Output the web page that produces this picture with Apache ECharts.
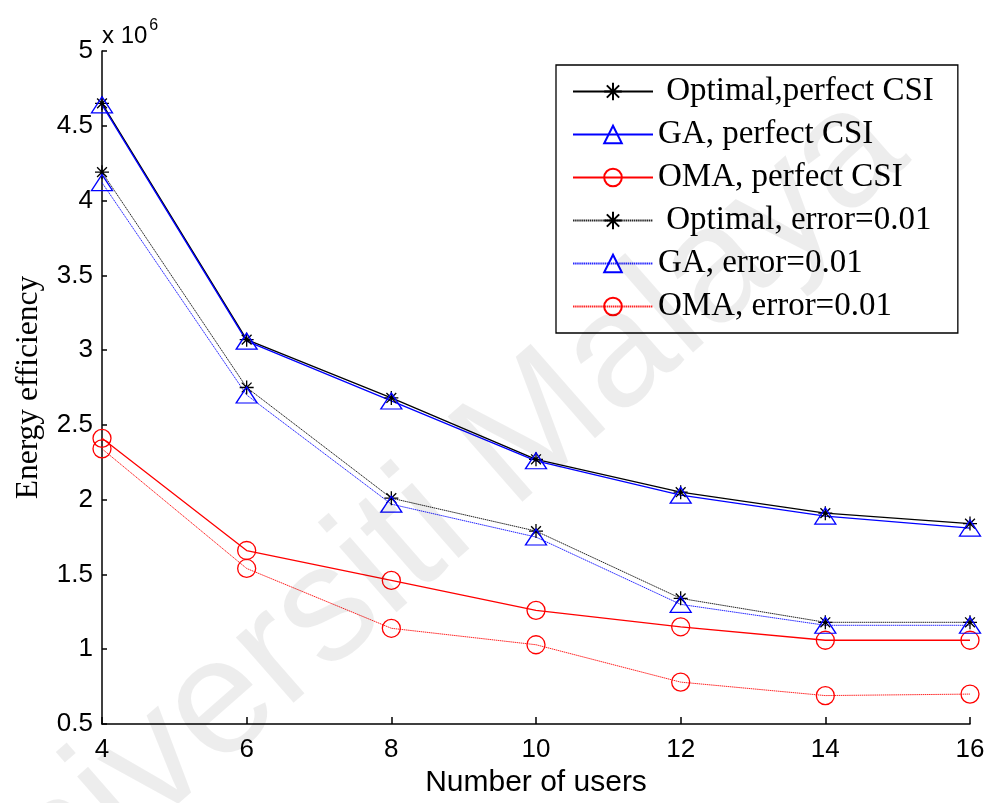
<!DOCTYPE html>
<html>
<head>
<meta charset="utf-8">
<script src="https://cdn.jsdelivr.net/npm/echarts@6/dist/echarts.min.js"></script>
<style>
  html, body { margin: 0; padding: 0; background: #fff; }
  #chart { width: 991px; height: 803px; }
</style>
</head>
<body>
<div id="chart"></div>
<script>
// Number of users on the x axis
const users = [4, 6, 8, 10, 12, 14, 16];

// Energy efficiency (in units of 10^6)
const optimalPerfect = [4.65, 3.07, 2.68, 2.27, 2.05, 1.91, 1.84];
const gaPerfect      = [4.64, 3.06, 2.66, 2.26, 2.03, 1.89, 1.81];
const omaPerfect     = [2.41, 1.66, 1.46, 1.26, 1.15, 1.06, 1.06];
const optimalError   = [4.19, 2.75, 2.01, 1.79, 1.34, 1.18, 1.18];
const gaError        = [4.12, 2.70, 1.97, 1.75, 1.30, 1.16, 1.16];
const omaError       = [2.34, 1.54, 1.14, 1.03, 0.78, 0.69, 0.70];

const seriesNames = [
  ' Optimal,perfect CSI',
  'GA, perfect CSI',
  'OMA, perfect CSI',
  ' Optimal, error=0.01',
  'GA, error=0.01',
  'OMA, error=0.01'
];

const yTicks = { min: 0.5, max: 5, step: 0.5 };
const xTicks = { min: 4, max: 16, step: 2 };

const SANS = '"Liberation Sans", Arial, sans-serif';
const SERIF = '"Liberation Serif", "Times New Roman", serif';

// asterisk marker built from line strokes
const asterisk = 'path://M0,-10L0,10M-10,0L10,0M-7,-7L7,7M-7,7L7,-7';

function pairs(vals) {
  return users.map((u, i) => [u, vals[i]]);
}

function makeSeries(name, vals, color, symbol, size, dotted, lineW) {
  const isStar = symbol === asterisk;
  return {
    name: name,
    type: 'line',
    data: pairs(vals),
    symbol: symbol,
    symbolSize: size,
    showAllSymbol: true,
    lineStyle: {
      color: color,
      width: lineW,
      type: dotted ? [1.5, 0.6] : 'solid',
      opacity: dotted ? 0.85 : 1
    },
    itemStyle: {
      color: isStar ? 'rgba(0,0,0,0)' : 'rgba(255,255,255,0)',
      borderColor: color,
      borderWidth: 1.3,
      opacity: 1
    },
    emphasis: { disabled: true },
    animation: false,
    z: 3
  };
}

const chart = echarts.init(document.getElementById('chart'));

const option = {
  backgroundColor: '#fff',
  animation: false,
  grid: { left: 102, right: 21, top: 51, bottom: 79, containLabel: false, outerBoundsMode: 'none' },
  graphic: [
    {
      // translucent diagonal watermark laid over the whole figure
      type: 'text',
      rotation: 0.72,
      x: 410,
      y: 540,
      z: 100,
      silent: true,
      style: {
        text: 'Universiti Malaya',
        font: '165px "Liberation Sans", Arial, sans-serif',
        fill: 'rgba(0,0,0,0.07)',
        textAlign: 'center',
        textVerticalAlign: 'middle'
      }
    },
    {
      type: 'text',
      x: 102,
      y: 14,
      z: 10,
      style: {
        text: '{b|x 10}{s|6}',
        rich: {
          b: { fontSize: 24, fontFamily: SANS, fill: '#000', padding: [10, 0, 0, 0] },
          s: { fontSize: 16, fontFamily: SANS, fill: '#000', padding: [0, 0, 10, 2] }
        }
      }
    }
  ],
  legend: {
    orient: 'vertical',
    left: 556,
    top: 65,
    padding: [10, 24, 10, 16],
    itemGap: 10,
    itemWidth: 80,
    itemHeight: 22,
    borderColor: '#000',
    borderWidth: 1.3,
    backgroundColor: '#fff',
    data: seriesNames,
    textStyle: {
      fontFamily: SERIF,
      fontSize: 33,
      lineHeight: 33,
      color: '#000'
    },
    selectedMode: false
  },
  xAxis: {
    type: 'value',
    min: xTicks.min,
    max: xTicks.max,
    interval: xTicks.step,
    name: 'Number of users',
    nameLocation: 'middle',
    nameGap: 44,
    nameTextStyle: { fontFamily: SANS, fontSize: 30, color: '#000' },
    axisLine: { lineStyle: { color: '#000', width: 1.5 } },
    axisTick: { inside: true, length: 7, lineStyle: { color: '#000', width: 1.5 } },
    axisLabel: { fontFamily: SANS, fontSize: 26, color: '#000', margin: 13 },
    splitLine: { show: false }
  },
  yAxis: {
    type: 'value',
    min: yTicks.min,
    max: yTicks.max,
    interval: yTicks.step,
    name: 'Energy efficiency',
    nameLocation: 'middle',
    nameGap: 57,
    nameTextStyle: { fontFamily: SERIF, fontSize: 31.5, color: '#000' },
    axisLine: { show: true, lineStyle: { color: '#000', width: 1.5 } },
    axisTick: { show: true, inside: true, length: 5, lineStyle: { color: '#000', width: 1.5 } },
    axisLabel: { fontFamily: SANS, fontSize: 26, color: '#000', margin: 9 },
    splitLine: { show: false }
  },
  series: [
    makeSeries(seriesNames[0], optimalPerfect, '#000000', asterisk, 14, false, 1.3),
    makeSeries(seriesNames[1], gaPerfect, '#0000ff', 'triangle', [21, 16], false, 1.3),
    makeSeries(seriesNames[2], omaPerfect, '#ff0000', 'circle', 18, false, 1.3),
    makeSeries(seriesNames[3], optimalError, '#000000', asterisk, 14, true, 1),
    makeSeries(seriesNames[4], gaError, '#0000ff', 'triangle', [21, 16], true, 1),
    makeSeries(seriesNames[5], omaError, '#ff0000', 'circle', 18, true, 1)
  ]
};

chart.setOption(option);
</script>
</body>
</html>
